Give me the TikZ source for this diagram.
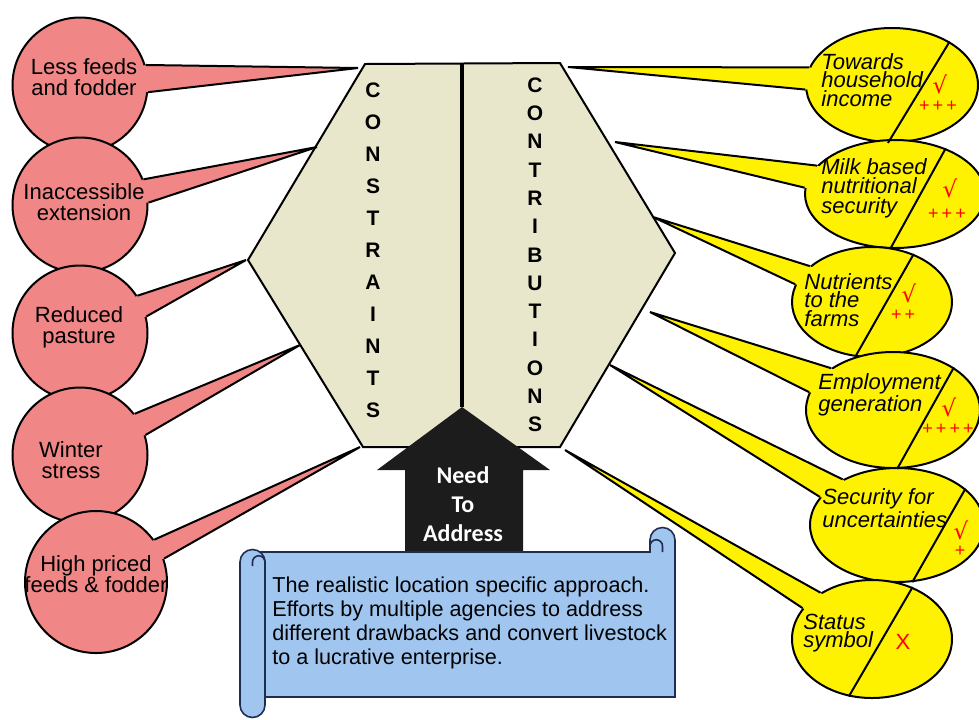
\documentclass[tikz,border=0pt]{standalone}
\usepackage{fontspec}
\setmainfont{Liberation Sans}
\newfontfamily\needfont{Carlito}
\newfontfamily\tickfont{DejaVu Sans}
\usetikzlibrary{shapes.geometric}
\definecolor{constrpink}{RGB}{240,134,134}
\definecolor{contribyellow}{RGB}{255,242,0}
\definecolor{hexfill}{RGB}{233,231,203}
\definecolor{scrollblue}{RGB}{160,198,240}
\definecolor{scrollline}{RGB}{30,45,80}
\definecolor{arrowblack}{RGB}{28,28,28}
\tikzset{
    constrnode/.style = {
        circle,
        draw=black,
        fill=constrpink,
        line width=1pt,
        minimum size=67.5pt,
        inner sep=0pt
    },
    constrtext/.style = {
        align=center,
        inner sep=0pt,
        font=\fontsize{11}{10.5}\selectfont
    },
    contribnode/.style = {
        ellipse,
        draw=black,
        fill=contribyellow,
        line width=1pt,
        inner sep=0pt
    },
    contribtext/.style = {
        align=left,
        anchor=west,
        inner sep=0pt,
        font=\fontsize{11}{9.4}\selectfont\itshape
    },
    tickmark/.style = {
        text=red,
        inner sep=0pt,
        font=\tickfont\fontsize{11.5}{11.5}\selectfont
    },
    plusmark/.style = {
        text=red,
        inner sep=0pt,
        font=\fontsize{9}{9}\selectfont
    },
    letter/.style = {
        inner sep=0pt,
        font=\fontsize{10.5}{10.5}\selectfont\bfseries
    },
    tailedge/.style = {
        draw=black,
        line width=1pt
    }
}

\begin{document}
\begin{tikzpicture}[x=0.5pt, y=-0.5pt]
    \useasboundingbox (0,0) rectangle (979,719);

    % centre hexagon
    \draw[fill=hexfill, line width=1pt] (365,64) -- (560,63) -- (675,253) -- (560,447)
        -- (363,447) -- (248,260) -- cycle;
    \draw[line width=2pt] (462,64) -- (462,407);
    \foreach \l [count=\i from 0] in {C,O,N,S,T,R,A,I,N,T,S}
        \node[letter] (cs\i) at (373, 90+32*\i) {\l};
    \foreach \l [count=\i from 0] in {C,O,N,T,R,I,B,U,T,I,O,N,S}
        \node[letter] (ct\i) at (535, 85+28.3*\i) {\l};

    % arrow
    \fill[arrowblack] (462,407) -- (550,470) -- (523,470) -- (523,556) -- (405,556)
        -- (405,470) -- (377,470) -- cycle;
    \node[constrtext, text=white, font=\needfont\bfseries\fontsize{12}{14.5}\selectfont]
        (need) at (463,504) {Need\\To\\Address};

    % scroll
    \draw[fill=scrollblue, draw=scrollline, line width=0.8pt] (252,552) -- (650,552) -- (650,540)
        arc[start angle=180, end angle=360, radius=12.5] -- (675,697) -- (252,697) -- cycle;
    \draw[draw=scrollline, line width=0.8pt] (662.5,552) -- (662.5,546)
        arc[start angle=0, end angle=-180, radius=6.25];
    \draw[fill=scrollblue, draw=scrollline, line width=0.8pt] (240,562)
        arc[start angle=180, end angle=360, radius=12.5] -- (265,705)
        arc[start angle=0, end angle=180, radius=12.5] -- cycle;
    \draw[draw=scrollline, line width=0.8pt] (265,570) -- (265,562)
        arc[start angle=0, end angle=-180, radius=6.25] -- (252.5,566);
    \node[anchor=west, align=left, inner sep=0pt, font=\fontsize{10.8}{12}\selectfont]
        (approach) at (272,623) {The realistic location specific approach.\\
        Efforts by multiple agencies to address\\
        different drawbacks and convert livestock\\
        to a lucrative enterprise.};

    % constraints
    \node[constrnode] (c1) at (80,85) {};
    \node[constrnode] (c2) at (80,205) {};
    \node[constrnode] (c3) at (80,333) {};
    \node[constrnode] (c4) at (80,455) {};
    \node[constrnode, minimum size=71pt] (c5) at (96,582) {};
    \coordinate (p1) at (358,68);
    \coordinate (p2) at (317,147);
    \coordinate (p3) at (246,260);
    \coordinate (p4) at (300,345);
    \coordinate (p5) at (360,447);
    \foreach \c/\a/\b/\p in {c1/17/-6/p1, c2/22/2/p2, c3/33/14/p3, c4/37/17/p4, c5/36/19/p5} {
        \fill[constrpink] (\c.center) -- (\c.\a) -- (\p) -- (\c.\b) -- cycle;
        \draw[tailedge] (\c.\a) -- (\p) -- (\c.\b);
    }
    \node[constrtext] (c1 text) at (84,77) {Less feeds\\and fodder};
    \node[constrtext] (c2 text) at (84,202) {Inaccessible\\extension};
    \node[constrtext] (c3 text) at (79,327) {Reduced\\pasture};
    \node[constrtext] (c4 text) at (71,460) {Winter\\stress};
    \node[constrtext] (c5 text) at (96,574) {High priced\\feeds \& fodder};

    % contributions
    \node[contribnode, minimum width=86pt, minimum height=57pt] (e1) at (892,85) {};
    \node[contribnode, minimum width=90pt, minimum height=54pt] (e2) at (895,194) {};
    \node[contribnode, minimum width=80pt, minimum height=55pt] (e3) at (872,302) {};
    \node[contribnode, minimum width=87pt, minimum height=58pt] (e4) at (893,410) {};
    \node[contribnode, minimum width=87pt, minimum height=57pt] (e5) at (897,525) {};
    \node[contribnode, minimum width=80pt, minimum height=59pt] (e6) at (872,639) {};
    \coordinate (q1) at (568,67);
    \coordinate (q2) at (615,142);
    \coordinate (q3) at (653,217);
    \coordinate (q4) at (650,312);
    \coordinate (q5) at (610,365);
    \coordinate (q6) at (565,450);
    \foreach \e/\a/\b/\q in {e1/168/183/q1, e2/160/176/q2, e3/150/167/q3,
                             e4/146/168/q4, e5/140/160/q5, e6/138/156/q6} {
        \fill[contribyellow] (\e.center) -- (\e.\a) -- (\q) -- (\e.\b) -- cycle;
        \draw[tailedge] (\e.\a) -- (\q) -- (\e.\b);
    }
    \foreach \e/\a/\b in {e1/37/-94, e2/42/-95, e3/49/-107, e4/35/-86, e5/28/-75, e6/52/-112}
        \draw[line width=1pt] (\e.\a) -- (\e.\b);
    \node[contribtext] (e1 text) at (821,80) {Towards\\household\\income};
    \node[contribtext, font=\fontsize{11}{9.75}\selectfont\itshape] (e2 text) at (821,188)
        {Milk based\\nutritional\\security};
    \node[contribtext] (e3 text) at (804,300) {Nutrients\\to the\\farms};
    \node[contribtext] (e4 text) at (818,395) {Employment\\generation};
    \node[contribtext, font=\fontsize{11}{11.5}\selectfont\itshape] (e5 text) at (822,508)
        {Security for\\uncertainties};
    \node[contribtext] (e6 text) at (803,633) {Status\\symbol};

    % marks
    \node[tickmark] (e1 tick) at (940,84) {√};
    \node[plusmark] (e1 plus) at (938,106) {+\,+\,+};
    \node[tickmark] (e2 tick) at (950,188) {√};
    \node[plusmark] (e2 plus) at (947,214) {+\,+\,+};
    \node[tickmark] (e3 tick) at (909,293) {√};
    \node[plusmark] (e3 plus) at (903,315) {+\,+};
    \node[tickmark] (e4 tick) at (949,407) {√};
    \node[plusmark] (e4 plus) at (948,429) {+\,+\,+\,+};
    \node[tickmark] (e5 tick) at (961,530) {√};
    \node[plusmark] (e5 plus) at (960,551) {+};
    \node[text=red, inner sep=0pt, font=\fontsize{11}{11}\selectfont] (e6 cross) at (903,642) {X};
\end{tikzpicture}
\end{document}
